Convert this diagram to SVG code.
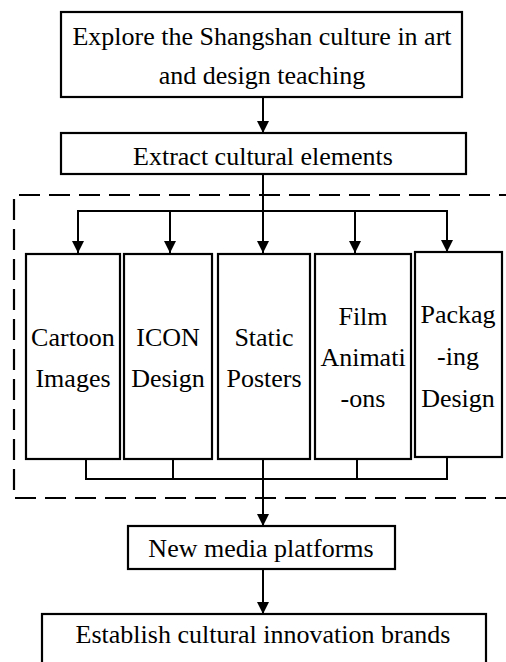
<svg xmlns="http://www.w3.org/2000/svg" width="506" height="662" viewBox="0 0 506 662">
<style>
.box{fill:#fff;stroke:#000;stroke-width:2.2}
.t{font-family:"Liberation Serif","Times New Roman",serif;font-size:26px;fill:#000;text-anchor:middle}
.ln{fill:none;stroke:#000;stroke-width:2}
.dash{fill:none;stroke:#000;stroke-width:2.2;stroke-dasharray:21 9}
</style>
<defs>
<marker id="ah" markerUnits="userSpaceOnUse" markerWidth="12" markerHeight="14" refX="12" refY="6" orient="auto">
<path d="M0,0 L12,6 L0,12 Z" fill="#000"/>
</marker>
</defs>
<rect width="506" height="662" fill="#fff"/>
<path class="dash" d="M520,195 H14 V498 H520"/>
<g id="n1"><rect class="box" x="61" y="12" width="401" height="85"/>
<text class="t" x="262" y="45">Explore the Shangshan culture in art</text>
<text class="t" x="262" y="84">and design teaching</text></g>
<g id="n2"><rect class="box" x="61" y="133" width="405" height="41"/>
<text class="t" x="263" y="165">Extract cultural elements</text></g>
<g id="n3"><rect class="box" x="26" y="254" width="94" height="205"/>
<text class="t" x="73" y="346">Cartoon</text><text class="t" x="73" y="387">Images</text></g>
<g id="n4"><rect class="box" x="124" y="254" width="88" height="205"/>
<text class="t" x="168" y="346">ICON</text><text class="t" x="168" y="387">Design</text></g>
<g id="n5"><rect class="box" x="218" y="254" width="92" height="205"/>
<text class="t" x="264" y="346">Static</text><text class="t" x="264" y="387">Posters</text></g>
<g id="n6"><rect class="box" x="315" y="254" width="96" height="205"/>
<text class="t" x="363" y="325">Film</text><text class="t" x="363" y="366">Animati</text><text class="t" x="363" y="407">-ons</text></g>
<g id="n7"><rect class="box" x="415" y="252" width="87" height="205"/>
<text class="t" x="458" y="323">Packag</text><text class="t" x="458" y="365">-ing</text><text class="t" x="458" y="407">Design</text></g>
<g id="n8"><rect class="box" x="128" y="526" width="267" height="43"/>
<text class="t" x="261" y="557">New media platforms</text></g>
<g id="n9"><rect class="box" x="42" y="614" width="444" height="70"/>
<text class="t" x="263" y="643">Establish cultural innovation brands</text></g>
<g id="connectors">
<path class="ln" d="M263,97 V133" marker-end="url(#ah)"/>
<path class="ln" d="M263,174 V253" marker-end="url(#ah)"/>
<path class="ln" d="M78,253 V211 H447 V252" marker-end="url(#ah)"/>
<path class="ln" d="M78,211 V253" marker-end="url(#ah)"/>
<path class="ln" d="M170,211 V253" marker-end="url(#ah)"/>
<path class="ln" d="M355,211 V253" marker-end="url(#ah)"/>
<path class="ln" d="M86,459 V479 H447 V457"/>
<path class="ln" d="M173,459 V479"/>
<path class="ln" d="M357,459 V479"/>
<path class="ln" d="M263,459 V526" marker-end="url(#ah)"/>
<path class="ln" d="M263,569 V614" marker-end="url(#ah)"/>
</g>
</svg>
